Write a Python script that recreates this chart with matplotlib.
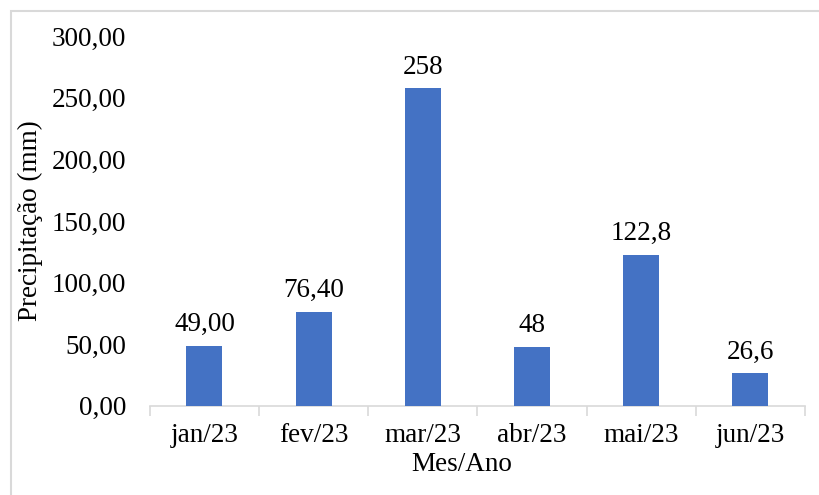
import matplotlib
matplotlib.use("Agg")
import matplotlib.pyplot as plt
import numpy as np
from matplotlib.patches import Rectangle

categories = ["jan/23", "fev/23", "mar/23", "abr/23", "mai/23", "jun/23"]
values = [49.00, 76.40, 258, 48, 122.8, 26.6]
value_labels = ["49,00", "76,40", "258", "48", "122,8", "26,6"]
yticks = [0, 50, 100, 150, 200, 250, 300]
ytick_labels = ["0,00", "50,00", "100,00", "150,00", "200,00", "250,00", "300,00"]

plt.rcParams['font.family'] = ['Liberation Serif', 'DejaVu Serif']
FS = 19.5

fig = plt.figure(figsize=(8.19, 4.95), dpi=100)
ax = fig.add_axes([0.183, 0.180, 0.800, 0.747])

x = np.arange(len(categories))
ax.bar(x, values, width=0.33, color="#4472C4", zorder=3)
for xi, v, lab in zip(x, values, value_labels):
    ax.annotate(lab, (xi, v), xytext=(0, 6), textcoords="offset points",
                ha="center", va="bottom", fontsize=FS, color="#000000")

ax.set_xlim(-0.5, len(categories) - 0.5)
ax.set_ylim(0, 300)
ax.set_yticks(yticks)
ax.set_yticklabels(ytick_labels, fontsize=FS)
ax.set_xticks(x)
ax.set_xticklabels(categories, fontsize=FS)
ax.set_xticks(np.arange(-0.5, len(categories)), minor=True)
ax.tick_params(axis="x", which="major", length=0, pad=12)
ax.tick_params(axis="x", which="minor", length=7, color="#D9D9D9", width=1.2)
ax.tick_params(axis="y", length=0, pad=17)

for s in ["top", "right", "left"]:
    ax.spines[s].set_visible(False)
ax.spines["bottom"].set_color("#D9D9D9")
ax.spines["bottom"].set_linewidth(1.2)

ax.set_xlabel("Mes/Ano", fontsize=FS)
ax.xaxis.set_label_coords(0.476, -0.125)
ax.set_ylabel("Precipitação (mm)", fontsize=FS, labelpad=6)

fig.patches.append(Rectangle((11/819, -0.1), 1.2, 1 - 11/495 + 0.1, transform=fig.transFigure,
                             fill=False, edgecolor="#D9D9D9", linewidth=1.5))

fig.savefig("out.png", dpi=100)
